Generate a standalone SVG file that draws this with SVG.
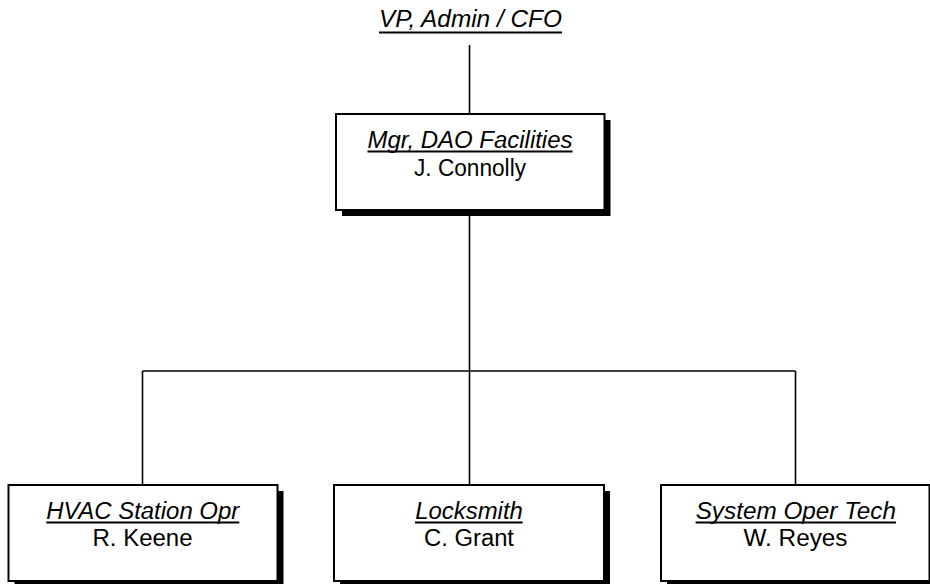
<svg xmlns="http://www.w3.org/2000/svg" width="930" height="584" viewBox="0 0 930 584">
<style>
.bg{fill:#fff}
.box{fill:#fff;stroke:#000;stroke-width:2}
.sh{fill:#000}
.ln{stroke:#000;stroke-width:1.6;fill:none}
.ul{stroke:#000;stroke-width:1.8}
.t{font-family:"Liberation Sans",Arial,sans-serif;font-size:23px;fill:#000;text-anchor:middle}
.i{font-style:italic}
</style>
<rect class="bg" x="0" y="0" width="930" height="584"/>
<g id="connectors">
<line class="ln" x1="469.5" y1="45" x2="469.5" y2="114"/>
<line class="ln" x1="469.5" y1="210" x2="469.5" y2="485"/>
<line class="ln" x1="142.5" y1="371" x2="795.5" y2="371"/>
<line class="ln" x1="142.5" y1="371" x2="142.5" y2="485"/>
<line class="ln" x1="795.5" y1="371" x2="795.5" y2="485"/>
</g>
<g id="vp-admin-cfo">
<text class="t i" x="470.5" y="27" textLength="183" lengthAdjust="spacingAndGlyphs">VP, Admin / CFO</text>
<line class="ul" x1="379" y1="32.5" x2="562" y2="32.5"/>
</g>
<g id="mgr-dao-facilities">
<rect class="sh" x="342" y="120" width="268.5" height="96"/>
<rect class="box" x="336" y="114" width="268.5" height="96"/>
<text class="t i" x="470" y="147.5" textLength="205" lengthAdjust="spacingAndGlyphs">Mgr, DAO Facilities</text>
<line class="ul" x1="367.5" y1="151.5" x2="572.5" y2="151.5"/>
<text class="t" x="470" y="175.5" textLength="112" lengthAdjust="spacingAndGlyphs">J. Connolly</text>
</g>
<g id="hvac-station-opr">
<rect class="sh" x="14.5" y="491" width="269" height="96"/>
<rect class="box" x="8.5" y="485" width="269" height="96"/>
<text class="t i" x="142.8" y="518.5" textLength="193" lengthAdjust="spacingAndGlyphs">HVAC Station Opr</text>
<line class="ul" x1="46.3" y1="522.5" x2="239.3" y2="522.5"/>
<text class="t" x="142.5" y="546" textLength="100" lengthAdjust="spacingAndGlyphs">R. Keene</text>
</g>
<g id="locksmith">
<rect class="sh" x="340" y="491" width="270" height="96"/>
<rect class="box" x="334" y="485" width="270" height="96"/>
<text class="t i" x="469" y="518.5" textLength="107.7" lengthAdjust="spacingAndGlyphs">Locksmith</text>
<line class="ul" x1="415" y1="522.5" x2="522.7" y2="522.5"/>
<text class="t" x="469" y="546" textLength="90" lengthAdjust="spacingAndGlyphs">C. Grant</text>
</g>
<g id="system-oper-tech">
<rect class="sh" x="667" y="491" width="269" height="96"/>
<rect class="box" x="661" y="485" width="268.5" height="96"/>
<text class="t i" x="795.8" y="518.5" textLength="200.3" lengthAdjust="spacingAndGlyphs">System Oper Tech</text>
<line class="ul" x1="695.6" y1="522.5" x2="895.9" y2="522.5"/>
<text class="t" x="795.5" y="546" textLength="104" lengthAdjust="spacingAndGlyphs">W. Reyes</text>
</g>
</svg>
